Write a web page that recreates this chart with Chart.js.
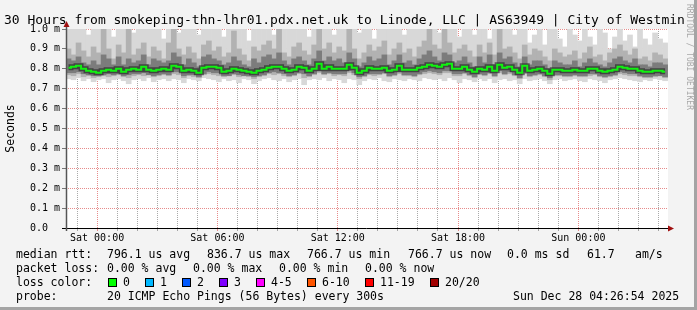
<!DOCTYPE html>
<html>
<head>
<meta charset="utf-8">
<title>SmokePing 30 hours</title>
<script src="https://cdn.jsdelivr.net/npm/chart.js@4.4.1/dist/chart.umd.min.js"></script>
<style>
  body { margin: 0; background: #fff; }
  #frame { position: absolute; left: 0; top: 0; width: 697px; height: 310px; box-sizing: border-box;
           background: #f3f3f3; border-right: 3px solid #a4a4a4; border-bottom: 3px solid #a4a4a4; }
  #chart { position: absolute; left: 0; top: 0; }
  .t { position: absolute; font-family: 'DejaVu Sans Mono', monospace; white-space: pre; color: #000; }
  .title { font-size: 13px; line-height: 15px; left: 4px; top: 12px; width: 681px; overflow: hidden; }
  .row { font-size: 11.5px; line-height: 14px; }
  .sw { position: absolute; width: 9px; height: 9px; box-sizing: border-box; border: 1px solid #000; top: 278px; }
  .brand { position: absolute; left: 685px; top: 4px; font: 8px 'DejaVu Sans Mono', monospace; color: #a8a8a8;
           writing-mode: vertical-rl; white-space: pre; }
</style>
</head>
<body>
<div id="frame"></div>
<canvas id="chart" width="697" height="310"></canvas>

<div class="t title">30 Hours from smokeping-thn-lhr01.pdx.net.uk to Linode, LLC | AS63949 | City of Westminster</div>
<div class="brand">RRDTOOL / TOBI OETIKER</div>

<!-- stats rows -->
<div class="t row" style="left:16px;top:247px">median rtt:</div>
<div class="t row" style="left:107px;top:247px">796.1 us avg</div>
<div class="t row" style="left:207px;top:247px">836.7 us max</div>
<div class="t row" style="left:307px;top:247px">766.7 us min</div>
<div class="t row" style="left:408px;top:247px">766.7 us now</div>
<div class="t row" style="left:507px;top:247px">0.0 ms sd</div>
<div class="t row" style="left:587px;top:247px">61.7</div>
<div class="t row" style="left:635px;top:247px">am/s</div>

<div class="t row" style="left:16px;top:261px">packet loss:</div>
<div class="t row" style="left:107px;top:261px">0.00 % avg</div>
<div class="t row" style="left:193px;top:261px">0.00 % max</div>
<div class="t row" style="left:279px;top:261px">0.00 % min</div>
<div class="t row" style="left:365px;top:261px">0.00 % now</div>

<div class="t row" style="left:16px;top:275px">loss color:</div>
<div id="lossLegend"></div>

<div class="t row" style="left:16px;top:289px">probe:</div>
<div class="t row" style="left:107px;top:289px">20 ICMP Echo Pings (56 Bytes) every 300s</div>
<div class="t row" style="left:513px;top:289px">Sun Dec 28 04:26:54 2025</div>

<script>
// time axis: hours relative to Sat 00:00, one sample every 15 minutes
const START_H = -1.55;
const END_H = 28.47;
const STEP_H = 0.25;

// median rtt (ms)
const median = [
  0.805, 0.81, 0.815, 0.80, 0.79, 0.785, 0.78, 0.79, 0.795, 0.79,
  0.80, 0.785, 0.795, 0.80, 0.795, 0.81, 0.795, 0.79, 0.795, 0.80,
  0.795, 0.815, 0.81, 0.79, 0.795, 0.79, 0.78, 0.805, 0.81, 0.81,
  0.805, 0.785, 0.79, 0.80, 0.795, 0.79, 0.785, 0.78, 0.79, 0.795,
  0.805, 0.81, 0.81, 0.80, 0.79, 0.795, 0.81, 0.805, 0.79, 0.80,
  0.825, 0.80, 0.81, 0.80, 0.80, 0.80, 0.82, 0.805, 0.78, 0.79,
  0.805, 0.80, 0.80, 0.805, 0.79, 0.795, 0.815, 0.795, 0.795, 0.795,
  0.805, 0.81, 0.82, 0.815, 0.81, 0.82, 0.825, 0.80, 0.80, 0.81,
  0.795, 0.785, 0.80, 0.795, 0.81, 0.79, 0.82, 0.805, 0.81, 0.795,
  0.78, 0.815, 0.79, 0.795, 0.80, 0.79, 0.775, 0.795, 0.795, 0.79,
  0.79, 0.795, 0.79, 0.79, 0.80, 0.80, 0.79, 0.785, 0.79, 0.795,
  0.81, 0.805, 0.80, 0.80, 0.79, 0.785, 0.785, 0.79, 0.79, 0.785
];

// fastest / slowest ping of each sample (light smoke, clipped at 1.0 m)
const smokeLo = [
  0.75, 0.745, 0.755, 0.74, 0.75, 0.735, 0.745, 0.75, 0.73, 0.745,
  0.75, 0.74, 0.725, 0.745, 0.75, 0.74, 0.755, 0.735, 0.745, 0.75,
  0.74, 0.75, 0.745, 0.73, 0.75, 0.745, 0.74, 0.755, 0.75, 0.745,
  0.735, 0.75, 0.74, 0.745, 0.73, 0.75, 0.745, 0.725, 0.74, 0.75,
  0.755, 0.745, 0.74, 0.75, 0.735, 0.745, 0.75, 0.72, 0.745, 0.75,
  0.745, 0.755, 0.74, 0.75, 0.745, 0.73, 0.75, 0.745, 0.72, 0.74,
  0.75, 0.745, 0.755, 0.74, 0.735, 0.75, 0.745, 0.74, 0.75, 0.745,
  0.74, 0.755, 0.75, 0.745, 0.75, 0.74, 0.755, 0.745, 0.73, 0.75,
  0.745, 0.735, 0.75, 0.74, 0.75, 0.73, 0.745, 0.75, 0.74, 0.745,
  0.725, 0.75, 0.74, 0.745, 0.75, 0.74, 0.725, 0.745, 0.75, 0.74,
  0.745, 0.75, 0.74, 0.735, 0.75, 0.745, 0.74, 0.73, 0.745, 0.75,
  0.755, 0.75, 0.745, 0.74, 0.735, 0.745, 0.74, 0.75, 0.745, 0.74
];
const smokeHi = [
  1.05, 1.05, 1.05, 1.05, 0.97, 1.05, 1.05, 1.05, 1.05, 0.96,
  1.05, 1.05, 1.05, 0.98, 1.05, 1.05, 1.05, 1.05, 1.05, 0.95,
  1.05, 1.05, 0.98, 1.05, 1.05, 1.05, 0.97, 1.05, 1.05, 1.05,
  1.05, 0.96, 1.05, 1.05, 1.05, 1.05, 0.94, 1.05, 1.05, 1.05,
  1.05, 0.97, 1.05, 1.05, 1.05, 1.05, 1.05, 1.05, 0.96, 1.05,
  1.05, 1.05, 1.05, 0.97, 1.05, 1.05, 1.05, 1.05, 0.98, 1.05,
  1.05, 0.95, 1.05, 1.05, 1.05, 1.05, 1.05, 0.97, 1.05, 1.05,
  1.05, 1.05, 1.05, 1.05, 0.98, 1.05, 1.05, 1.05, 0.96, 1.05,
  1.05, 0.97, 1.05, 1.05, 0.95, 1.05, 1.05, 1.05, 1.05, 0.97,
  1.05, 1.05, 0.93, 0.97, 1.05, 0.92, 1.05, 1.05, 0.95, 0.91,
  1.05, 0.97, 0.94, 1.05, 0.96, 0.92, 1.05, 0.98, 0.90, 0.96,
  1.05, 0.94, 0.97, 0.91, 1.05, 0.95, 0.92, 0.98, 0.95, 0.93
];

// middle smoke band (roughly 10th..90th ping)
const coreLo = [
  0.77, 0.765, 0.775, 0.76, 0.765, 0.755, 0.76, 0.765, 0.76, 0.765,
  0.77, 0.76, 0.755, 0.765, 0.77, 0.765, 0.77, 0.76, 0.765, 0.77,
  0.765, 0.775, 0.77, 0.755, 0.765, 0.76, 0.755, 0.77, 0.775, 0.77,
  0.765, 0.76, 0.765, 0.77, 0.76, 0.765, 0.76, 0.75, 0.76, 0.765,
  0.775, 0.77, 0.775, 0.765, 0.76, 0.765, 0.775, 0.755, 0.76, 0.77,
  0.78, 0.77, 0.775, 0.765, 0.77, 0.765, 0.78, 0.77, 0.75, 0.76,
  0.77, 0.765, 0.77, 0.775, 0.76, 0.765, 0.775, 0.765, 0.765, 0.76,
  0.77, 0.775, 0.78, 0.775, 0.77, 0.78, 0.78, 0.765, 0.765, 0.775,
  0.765, 0.755, 0.77, 0.765, 0.775, 0.76, 0.78, 0.77, 0.775, 0.765,
  0.75, 0.775, 0.76, 0.765, 0.77, 0.76, 0.745, 0.765, 0.765, 0.76,
  0.76, 0.765, 0.76, 0.76, 0.765, 0.77, 0.76, 0.755, 0.76, 0.765,
  0.775, 0.77, 0.765, 0.765, 0.76, 0.755, 0.755, 0.76, 0.765, 0.755
];
const coreHi = [
  0.90, 0.87, 0.93, 0.89, 0.86, 0.91, 0.88, 1.05, 0.90, 0.85,
  0.92, 0.88, 1.00, 0.87, 0.90, 0.93, 0.86, 0.91, 0.89, 0.85,
  0.93, 1.05, 0.90, 0.87, 0.91, 0.88, 0.85, 0.92, 0.94, 0.89,
  0.91, 0.86, 0.88, 0.99, 0.90, 0.87, 0.84, 0.91, 0.89, 0.92,
  0.94, 0.90, 1.05, 0.88, 0.86, 0.91, 0.93, 0.89, 0.87, 0.92,
  1.05, 0.90, 0.93, 0.88, 0.91, 0.89, 1.02, 0.90, 0.85, 0.88,
  0.92, 0.89, 0.91, 0.94, 0.87, 0.90, 0.93, 0.88, 0.90, 0.86,
  0.91, 0.94, 1.05, 0.92, 0.90, 1.00, 0.93, 0.88, 0.90, 0.92,
  0.89, 0.86, 0.92, 0.88, 0.93, 0.87, 1.05, 0.90, 0.91, 0.88,
  0.85, 0.92, 0.87, 0.90, 0.89, 0.86, 0.84, 0.90, 0.88, 0.86,
  0.87, 0.89, 0.85, 0.88, 0.91, 0.86, 0.87, 0.84, 0.88, 0.90,
  0.92, 0.89, 0.87, 0.90, 0.85, 0.86, 0.84, 0.88, 0.87, 0.85
];

// dense inner band (roughly 25th..75th ping)
const innerLo = [
  0.78, 0.78, 0.785, 0.775, 0.77, 0.765, 0.765, 0.77, 0.775, 0.77,
  0.775, 0.765, 0.77, 0.775, 0.775, 0.78, 0.77, 0.765, 0.77, 0.775,
  0.77, 0.785, 0.785, 0.765, 0.77, 0.77, 0.76, 0.775, 0.785, 0.78,
  0.78, 0.765, 0.765, 0.775, 0.77, 0.765, 0.765, 0.76, 0.765, 0.77,
  0.78, 0.785, 0.78, 0.775, 0.765, 0.77, 0.78, 0.775, 0.765, 0.775,
  0.79, 0.775, 0.78, 0.775, 0.775, 0.775, 0.79, 0.78, 0.76, 0.765,
  0.775, 0.775, 0.775, 0.78, 0.765, 0.77, 0.785, 0.77, 0.77, 0.765,
  0.775, 0.785, 0.79, 0.785, 0.78, 0.79, 0.79, 0.775, 0.775, 0.78,
  0.77, 0.76, 0.775, 0.77, 0.78, 0.765, 0.79, 0.775, 0.785, 0.77,
  0.755, 0.785, 0.765, 0.77, 0.775, 0.765, 0.755, 0.77, 0.77, 0.765,
  0.765, 0.77, 0.765, 0.765, 0.775, 0.775, 0.765, 0.76, 0.765, 0.77,
  0.785, 0.78, 0.775, 0.775, 0.765, 0.76, 0.76, 0.765, 0.765, 0.76
];
const innerHi = [
  0.85, 0.84, 0.86, 0.83, 0.82, 0.84, 0.82, 0.87, 0.85, 0.82,
  0.86, 0.82, 0.85, 0.83, 0.84, 0.87, 0.82, 0.85, 0.84, 0.83,
  0.84, 0.88, 0.86, 0.82, 0.85, 0.83, 0.81, 0.86, 0.87, 0.85,
  0.84, 0.82, 0.83, 0.86, 0.84, 0.82, 0.81, 0.85, 0.83, 0.86,
  0.87, 0.85, 0.88, 0.84, 0.82, 0.85, 0.86, 0.84, 0.82, 0.85,
  0.89, 0.84, 0.86, 0.84, 0.85, 0.83, 0.88, 0.85, 0.81, 0.83,
  0.86, 0.84, 0.85, 0.87, 0.82, 0.84, 0.87, 0.83, 0.84, 0.82,
  0.85, 0.87, 0.89, 0.86, 0.84, 0.88, 0.87, 0.83, 0.84, 0.86,
  0.83, 0.81, 0.86, 0.83, 0.87, 0.82, 0.88, 0.85, 0.86, 0.83,
  0.81, 0.86, 0.82, 0.84, 0.84, 0.82, 0.80, 0.84, 0.83, 0.82,
  0.82, 0.84, 0.81, 0.83, 0.85, 0.83, 0.82, 0.81, 0.83, 0.85,
  0.86, 0.84, 0.83, 0.85, 0.82, 0.82, 0.81, 0.83, 0.83, 0.82
];

const tickHours = [0, 6, 12, 18, 24];
const tickLabels = ['Sat 00:00', 'Sat 06:00', 'Sat 12:00', 'Sat 18:00', 'Sun 00:00'];

const lossLabels = ['0', '1', '2', '3', '4-5', '6-10', '11-19', '20/20'];
const lossColors = ['#00ff00', '#00b8ff', '#0059ff', '#7e00ff', '#ff00ff', '#ff5500', '#ff0000', '#a10000'];
const lossSwatchX = [108, 145, 182, 219, 256, 307, 365, 430];

// loss colour legend (html)
const legendEl = document.getElementById('lossLegend');
lossLabels.forEach((lbl, i) => {
  const sw = document.createElement('div');
  sw.className = 'sw';
  sw.style.left = lossSwatchX[i] + 'px';
  sw.style.background = lossColors[i];
  legendEl.appendChild(sw);
  const tx = document.createElement('div');
  tx.className = 't row';
  tx.style.left = (lossSwatchX[i] + 15) + 'px';
  tx.style.top = '275px';
  tx.textContent = lbl;
  legendEl.appendChild(tx);
});

const hours = median.map((_, i) => START_H + STEP_H * (i + 0.5));
const pts = arr => hours.map((h, i) => ({ x: h, y: arr[i] }));
const band = (lo, hi) => hours.map((h, i) => ({ x: h, y: [lo[i], hi[i]] }));

const MAJOR = 'rgba(225,110,110,0.8)';
const MINOR = 'rgba(140,140,140,0.75)';

// white plot background, axis lines and the red rrdtool arrows
const plotDeco = {
  id: 'plotDeco',
  beforeDraw(chart) {
    const { ctx, chartArea: a } = chart;
    ctx.save();
    ctx.fillStyle = '#fff';
    ctx.fillRect(a.left, a.top, a.right - a.left, a.bottom - a.top);
    ctx.restore();
  },
  afterDraw(chart) {
    const { ctx, chartArea: a } = chart;
    ctx.save();
    ctx.strokeStyle = '#000';
    ctx.lineWidth = 1;
    ctx.beginPath();
    ctx.moveTo(a.left - 4, a.bottom + 0.5); ctx.lineTo(a.right + 3, a.bottom + 0.5);
    ctx.stroke();
    ctx.strokeStyle = '#555';
    ctx.lineWidth = 1.5;
    ctx.beginPath();
    ctx.moveTo(a.left + 0.5, a.bottom + 3); ctx.lineTo(a.left + 0.5, a.top - 3);
    ctx.stroke();
    ctx.fillStyle = '#a01010';
    ctx.beginPath();
    ctx.moveTo(a.left + 0.5, a.top - 8); ctx.lineTo(a.left - 2.5, a.top - 2); ctx.lineTo(a.left + 3.5, a.top - 2);
    ctx.closePath(); ctx.fill();
    ctx.beginPath();
    ctx.moveTo(a.right + 6, a.bottom + 0.5); ctx.lineTo(a.right, a.bottom - 2.5); ctx.lineTo(a.right, a.bottom + 3.5);
    ctx.closePath(); ctx.fill();
    ctx.restore();
  }
};

Chart.defaults.font.family = "'DejaVu Sans Mono', monospace";
Chart.defaults.color = '#000';

const barOpts = { grouped: false, barPercentage: 1, categoryPercentage: 1 };

new Chart(document.getElementById('chart'), {
  type: 'bar',
  data: {
    datasets: [
      { type: 'line', label: 'median rtt', data: pts(median), borderColor: '#11f011', borderWidth: 2,
        stepped: 'middle', pointRadius: 0, order: 0 },
      { type: 'line', label: 'core', data: pts(median), borderColor: 'rgba(30,30,30,0.6)', borderWidth: 5,
        stepped: 'middle', pointRadius: 0, order: 1 },
      { label: 'inner smoke', data: band(innerLo, innerHi), backgroundColor: '#7c7c7c', order: 2, ...barOpts },
      { label: 'middle smoke', data: band(coreLo, coreHi), backgroundColor: '#b2b2b2', order: 3, ...barOpts },
      { label: 'outer smoke', data: band(smokeLo, smokeHi), backgroundColor: '#d8d8d8', order: 4, ...barOpts }
    ]
  },
  options: {
    responsive: false,
    animation: false,
    layout: { padding: { left: 0, right: 29, top: 29, bottom: 0 } },
    plugins: { legend: { display: false }, tooltip: { enabled: false } },
    scales: {
      x: {
        type: 'linear', min: START_H, max: END_H, offset: false, z: 1,
        afterFit(scale) { scale.height = 82; },
        border: { display: false, dash: [1, 1] },
        grid: {
          offset: false, tickLength: 3, tickBorderDash: [],
          color: c => (c.tick.value % 6 === 0 ? MAJOR : MINOR),
          tickColor: c => (c.tick.value % 6 === 0 ? MAJOR : MINOR)
        },
        ticks: {
          stepSize: 1, autoSkip: false, maxRotation: 0, includeBounds: false, padding: 1,
          font: { size: 10 },
          callback: v => { const k = tickHours.indexOf(v); return k >= 0 ? tickLabels[k] : ''; }
        }
      },
      y: {
        min: 0, max: 1.0, z: 1,
        afterFit(scale) { scale.width = 66; },
        border: { display: false, dash: [1, 1] },
        grid: {
          tickLength: 4, tickBorderDash: [],
          color: c => (c.tick.value === 0 ? 'rgba(0,0,0,0)' : MAJOR),
          tickColor: '#777'
        },
        ticks: {
          stepSize: 0.1, padding: 2, font: { size: 10 },
          callback: v => (Math.abs(v) < 1e-9 ? '0.0  ' : v.toFixed(1) + ' m')
        },
        title: { display: true, text: 'Seconds', font: { size: 11.5 }, padding: { top: 4, bottom: 0 } }
      }
    }
  },
  plugins: [plotDeco]
});
</script>
</body>
</html>
